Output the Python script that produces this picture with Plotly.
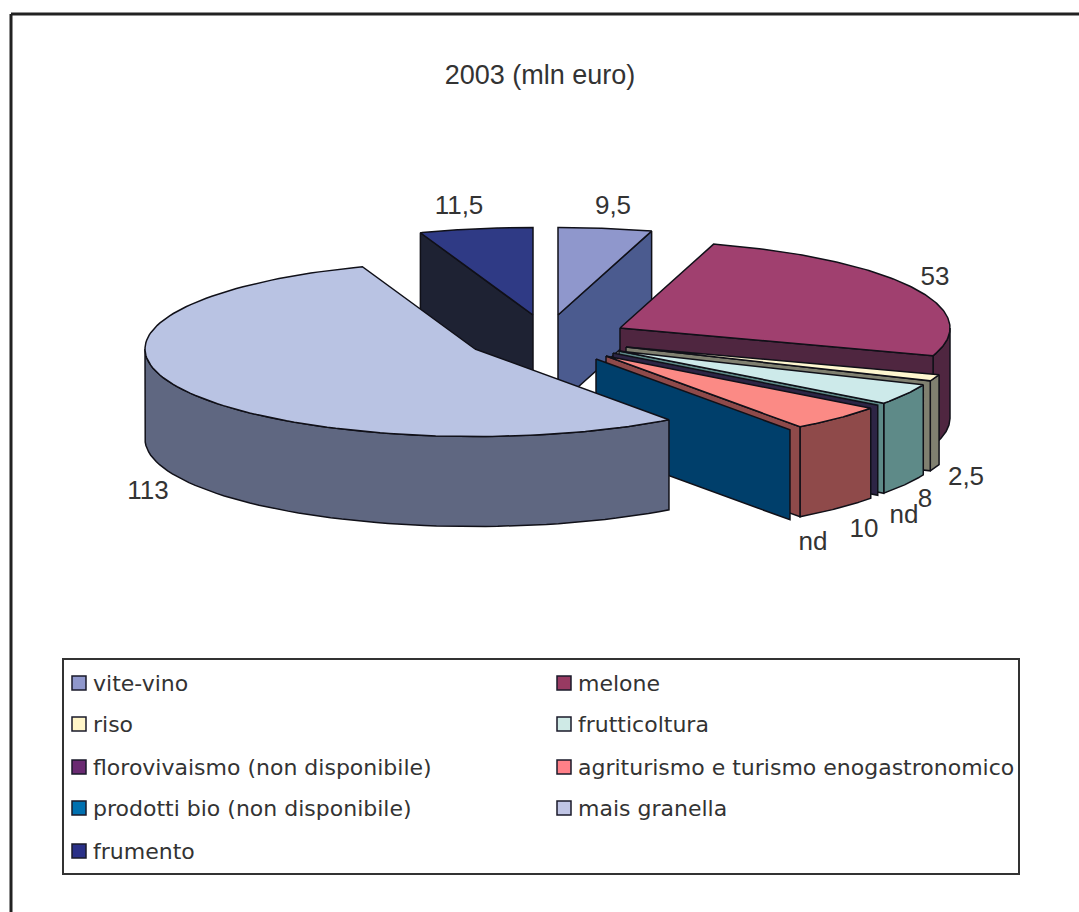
"""
2003 (mln euro): exploded 3D pie, drawn as filled scatter polygons on a pixel-sized axis
"""
import numpy as np
import plotly.graph_objects as go

# Data
categories = ["vite-vino", "melone", "riso", "frutticoltura", "florovivaismo (non disponibile)",
              "agriturismo e turismo enogastronomico", "prodotti bio (non disponibile)",
              "mais granella", "frumento"]
values = [9.5, 53, 2.5, 8, 0, 10, 0, 113, 11.5]
value_labels = ["9,5", "53", "2,5", "8", "nd", "10", "nd", "113", "11,5"]

# Styles
legend_colors = ["#8f97cc", "#983a62", "#fff5c8", "#cfeae6", "#6a2a72", "#ff8088", "#0070b0", "#c0c5e5", "#2a3088"]
top_colors = ["#8f97cc", "#a0406f", "#fff7d0", "#cdeaea", "#2d2545", "#fb8a85", "#003f6b", "#b9c3e3", "#2f3a85"]
wall_colors = ["#4b5b8f", "#4f2640", "#808070", "#5e8a88", "#2d2545", "#8f4a4a", "#003f6b", "#5f6781", "#1e2233"]

# Slice tips after the explosion, in pixels
tips_x = [558, 620, 626, 619, 613, 606, 596, 475, 533]
tips_y = [315, 328, 347, 351, 353, 356, 359, 349, 315]
RX, RY, DEPTH = 330, 87.5, 90

# Label anchors, in pixels
label_x = [613, 935, 966, 925, 904, 864, 813, 148, 459]
label_y = [207, 278, 478, 500, 516, 530, 543, 492, 207]

FONT = "Liberation Sans, Arial, sans-serif"
LEGEND_FONT = "DejaVu Sans, sans-serif"
TEXT = "#333333"
OUTLINE = "#101018"


def rim(i, deg):
    t = np.radians(deg)
    return tips_x[i] + RX * np.sin(t), tips_y[i] - RY * np.cos(t)


def add_poly(fig, xs, ys, color, name):
    fig.add_trace(go.Scatter(
        x=list(xs) + [xs[0]], y=list(ys) + [ys[0]],
        mode="lines", fill="toself", fillcolor=color,
        line=dict(color=OUTLINE, width=1.5),
        name=name, hoverinfo="name", showlegend=False,
    ))


def add_slice(fig, i, t0, t1):
    name = categories[i]
    tx, ty = tips_x[i], tips_y[i]

    # outer wall: only the part of the arc facing the viewer
    a0, a1 = max(t0, 90), min(t1, 270)
    if a1 > a0:
        arc = np.linspace(a0, a1, 60)
        ax, ay = rim(i, arc)
        add_poly(fig, np.r_[ax, ax[::-1]], np.r_[ay, ay[::-1] + DEPTH], wall_colors[i], name)

    # cut faces
    for deg, visible in ((t1, np.sin(np.radians(t1)) > 0), (t0, np.sin(np.radians(t0)) < 0)):
        if visible:
            rx, ry = rim(i, deg)
            add_poly(fig, [tx, rx, rx, tx], [ty, ry, ry + DEPTH, ty + DEPTH], wall_colors[i], name)

    # top surface
    if t1 > t0:
        arc = np.linspace(t0, t1, 120)
        ax, ay = rim(i, arc)
        add_poly(fig, np.r_[tx, ax], np.r_[ty, ay], top_colors[i], name)


fig = go.Figure()

angles = np.r_[0, np.cumsum(values)] / sum(values) * 360
draw_order = [8, 0, 1, 2, 3, 4, 5, 6, 7]
for i in draw_order:
    add_slice(fig, i, angles[i], angles[i + 1])

# Legend, two columns on the same pixel axis
legend_cols = [79, 564]
legend_text_gap = 14
legend_rows = [683, 724, 767, 808, 851]
leg_x = np.array([legend_cols[i % 2] for i in range(len(categories))])
leg_y = np.array([legend_rows[i // 2] for i in range(len(categories))])
fig.add_trace(go.Scatter(
    x=leg_x, y=leg_y, mode="markers",
    marker=dict(symbol="square", size=14, color=legend_colors, line=dict(color="#1a1a2a", width=1.5)),
    text=categories, hoverinfo="text", showlegend=False,
))
fig.add_trace(go.Scatter(
    x=leg_x + legend_text_gap, y=leg_y + 2, mode="text", text=categories,
    textposition="middle right", textfont=dict(family=LEGEND_FONT, size=22, color=TEXT),
    hoverinfo="skip", showlegend=False,
))

# Value labels
fig.add_trace(go.Scatter(
    x=label_x, y=label_y, mode="text", text=value_labels,
    textfont=dict(family=FONT, size=26, color=TEXT),
    hoverinfo="skip", showlegend=False,
))

fig.update_layout(
    width=1079, height=912,
    margin=dict(l=0, r=0, t=0, b=0),
    paper_bgcolor="white", plot_bgcolor="white",
    title=dict(text="2003 (mln euro)", x=540 / 1079, y=1 - 75 / 912, xanchor="center", yanchor="middle",
               font=dict(family=FONT, size=27, color=TEXT)),
    shapes=[
        # frame, left and top only
        dict(type="line", x0=11, x1=11, y0=14, y1=912, line=dict(color="#222222", width=3)),
        dict(type="line", x0=11, x1=1079, y0=14, y1=14, line=dict(color="#222222", width=3)),
        # legend box
        dict(type="rect", x0=63, x1=1019, y0=659, y1=874, line=dict(color="#333333", width=2)),
    ],
)
fig.update_xaxes(range=[0, 1079], visible=False, fixedrange=True)
fig.update_yaxes(range=[912, 0], visible=False, fixedrange=True)

fig.write_html("out.html", config={"displayModeBar": False},
               post_script="document.body.style.margin = '0';")
